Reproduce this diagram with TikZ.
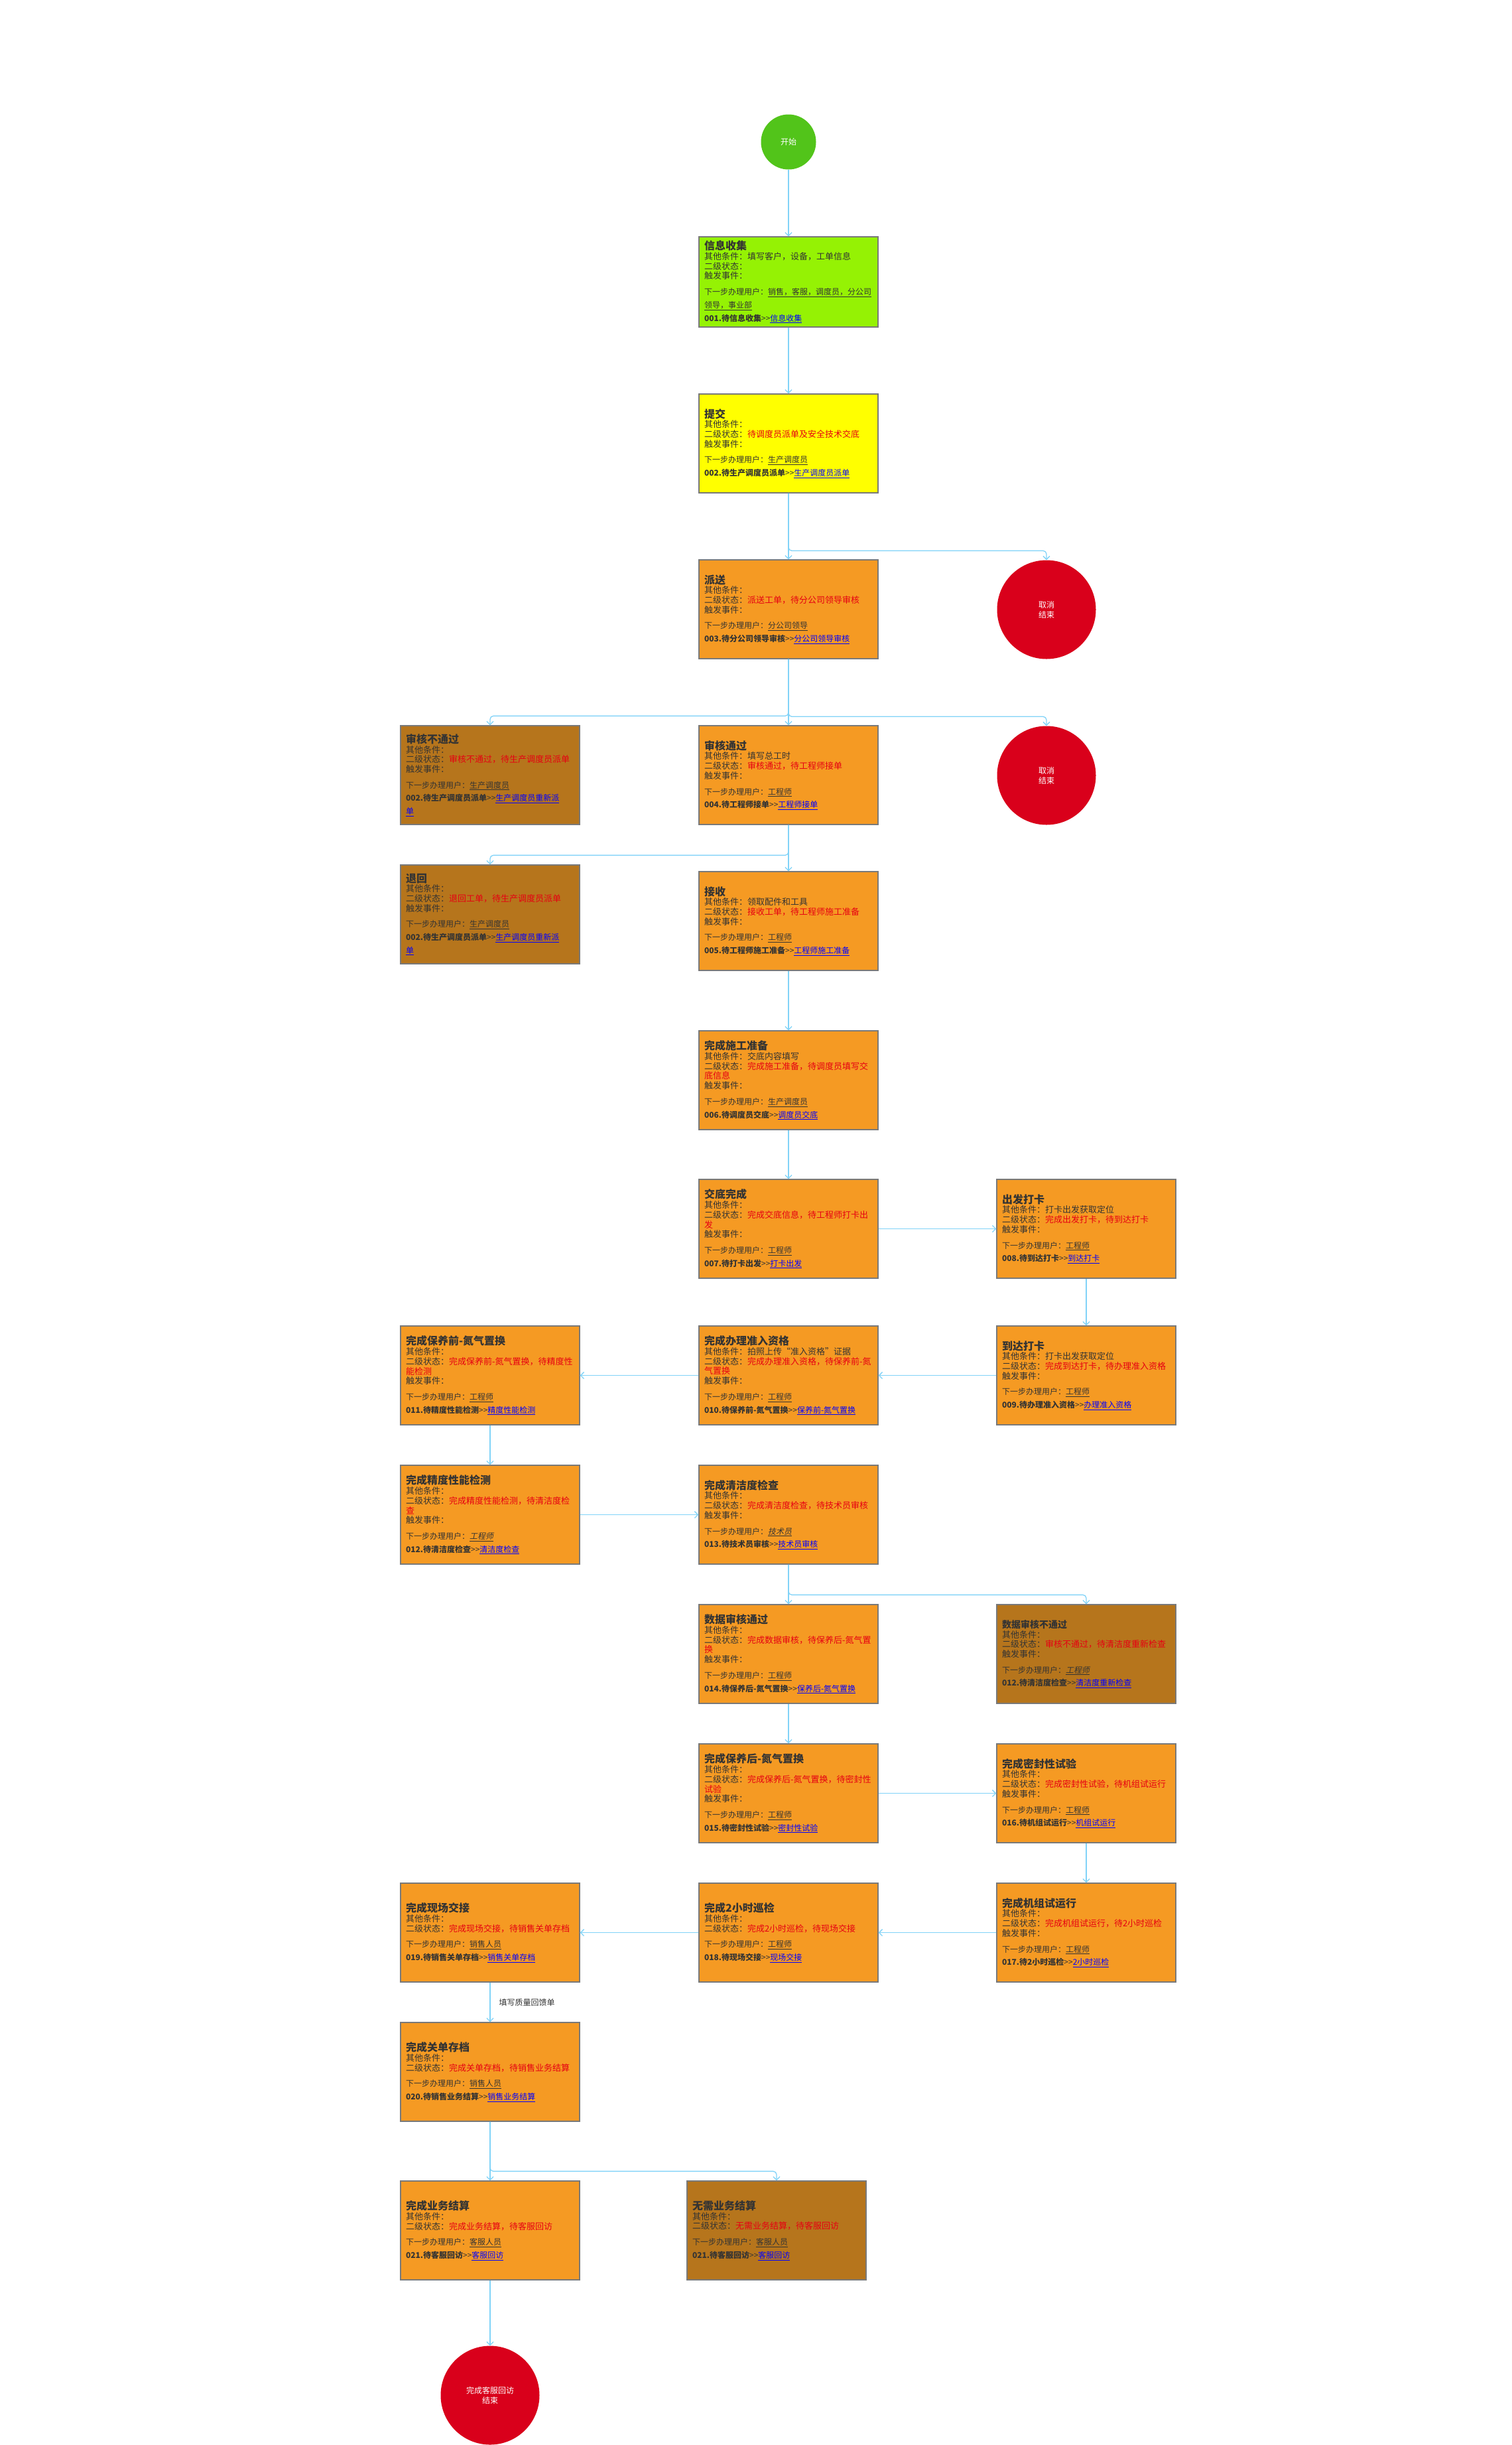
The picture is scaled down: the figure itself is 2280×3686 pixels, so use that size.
\documentclass[tikz,border=0pt]{standalone}
\usepackage{fontspec}
\setmainfont{Noto Sans CJK SC}
\newfontfamily\slantcjk[FakeSlant=0.2]{Noto Sans CJK SC}
\usetikzlibrary{arrows.meta}

\definecolor{startgreen}{RGB}{82,196,26}
\definecolor{limefill}{RGB}{149,242,4}
\definecolor{yellowfill}{RGB}{255,255,0}
\definecolor{orangefill}{RGB}{245,154,35}
\definecolor{brownfill}{RGB}{182,117,28}
\definecolor{endred}{RGB}{217,0,27}
\definecolor{flowblue}{RGB}{129,211,248}
\definecolor{txtdark}{RGB}{51,51,51}
\definecolor{statered}{RGB}{230,0,18}
\definecolor{linkblue}{RGB}{0,0,255}
\definecolor{boxgray}{RGB}{121,121,121}

\newcommand{\boxtitle}[1]{{\fontsize{16}{19}\selectfont\bfseries #1}\\}
\newcommand{\boxtitlesm}[1]{{\fontsize{14}{17}\selectfont\bfseries #1}\\}
\newcommand{\sttxt}[1]{\textcolor{statered}{#1}}
\newcommand{\usertxt}[1]{{\fontsize{12}{14}\selectfont 下一步办理用户：\underline{#1}}}
\newcommand{\usertxti}[1]{{\fontsize{12}{14}\selectfont 下一步办理用户：\underline{\slantcjk #1}}}
\newcommand{\codetxt}[2]{{\fontsize{12}{14}\selectfont\textbf{#1}>{}>\textcolor{linkblue}{\underline{#2}}}}

\begin{document}
\begin{tikzpicture}[x=1pt, y=-1pt,
  card/.style={draw=boxgray, line width=1.3pt, minimum width=270pt, minimum height=149pt,
    text width=254pt, inner xsep=8pt, inner ysep=2pt, align=left, text=txtdark,
    font=\fontsize{13}{14.7}\selectfont},
  ocard/.style={card, fill=orangefill},
  bcard/.style={card, fill=brownfill},
  endpt/.style={circle, fill=endred, text=white, minimum size=149pt, inner sep=0pt,
    align=center, font=\fontsize{12}{15}\selectfont},
  flow/.style={draw=flowblue, line width=1.3pt, rounded corners=5pt,
    -{Straight Barb[length=5pt,width=10pt]}},
  lbl/.style={anchor=west, xshift=12pt, inner sep=1pt, text=txtdark,
    font=\fontsize{12}{14}\selectfont}]

\fill[white] (0,0) rectangle (2280,3686);
\useasboundingbox (0,0) rectangle (2280,3686);

\node[circle, fill=startgreen, text=white, minimum size=83pt, inner sep=0pt,
  font=\fontsize{12}{14}\selectfont] (start) at (1189,214) {开始};

\node[card, fill=limefill, minimum height=136pt] (xinxi) at (1189,425) {\boxtitle{信息收集}
其他条件：填写客户，设备，工单信息\\
二级状态：\\
触发事件：\\[9pt]
\usertxt{销售，客服，调度员，分公司}\\[5pt]
{\fontsize{12}{14}\selectfont\underline{领导，事业部}}\\[5pt]
\codetxt{001.待信息收集}{信息收集}};

\node[card, fill=yellowfill] (tijiao) at (1189,668.5) {\boxtitle{提交}
其他条件：\\
二级状态：\sttxt{待调度员派单及安全技术交底}\\
触发事件：\\[9pt]
\usertxt{生产调度员}\\[5pt]
\codetxt{002.待生产调度员派单}{生产调度员派单}};

\node[ocard] (paisong) at (1189,918.5) {\boxtitle{派送}
其他条件：\\
二级状态：\sttxt{派送工单，待分公司领导审核}\\
触发事件：\\[9pt]
\usertxt{分公司领导}\\[5pt]
\codetxt{003.待分公司领导审核}{分公司领导审核}};

\node[endpt] (cancelA) at (1578,919) {取消\\结束};

\node[bcard] (shenbu) at (739,1168.5) {\boxtitle{审核不通过}
其他条件：\\
二级状态：\sttxt{审核不通过，待生产调度员派单}\\
触发事件：\\[9pt]
\usertxt{生产调度员}\\[5pt]
\codetxt{002.待生产调度员派单}{生产调度员重新派}\\[5pt]
{\fontsize{12}{14}\selectfont\textcolor{linkblue}{\underline{单}}}};

\node[ocard] (shentong) at (1189,1168.5) {\boxtitle{审核通过}
其他条件：填写总工时\\
二级状态：\sttxt{审核通过，待工程师接单}\\
触发事件：\\[9pt]
\usertxt{工程师}\\[5pt]
\codetxt{004.待工程师接单}{工程师接单}};

\node[endpt] (cancelB) at (1578,1169) {取消\\结束};

\node[bcard] (tuihui) at (739,1378.5) {\boxtitle{退回}
其他条件：\\
二级状态：\sttxt{退回工单，待生产调度员派单}\\
触发事件：\\[9pt]
\usertxt{生产调度员}\\[5pt]
\codetxt{002.待生产调度员派单}{生产调度员重新派}\\[5pt]
{\fontsize{12}{14}\selectfont\textcolor{linkblue}{\underline{单}}}};

\node[ocard] (jieshou) at (1189,1388.5) {\boxtitle{接收}
其他条件：领取配件和工具\\
二级状态：\sttxt{接收工单，待工程师施工准备}\\
触发事件：\\[9pt]
\usertxt{工程师}\\[5pt]
\codetxt{005.待工程师施工准备}{工程师施工准备}};

\node[ocard] (shigong) at (1189,1628.5) {\boxtitle{完成施工准备}
其他条件：交底内容填写\\
二级状态：\sttxt{完成施工准备，待调度员填写交}\\
\sttxt{底信息}\\
触发事件：\\[9pt]
\usertxt{生产调度员}\\[5pt]
\codetxt{006.待调度员交底}{调度员交底}};

\node[ocard] (jiaodi) at (1189,1852.5) {\boxtitle{交底完成}
其他条件：\\
二级状态：\sttxt{完成交底信息，待工程师打卡出}\\
\sttxt{发}\\
触发事件：\\[9pt]
\usertxt{工程师}\\[5pt]
\codetxt{007.待打卡出发}{打卡出发}};

\node[ocard] (chufa) at (1638,1852.5) {\boxtitle{出发打卡}
其他条件：打卡出发获取定位\\
二级状态：\sttxt{完成出发打卡，待到达打卡}\\
触发事件：\\[9pt]
\usertxt{工程师}\\[5pt]
\codetxt{008.待到达打卡}{到达打卡}};

\node[ocard] (daoda) at (1638,2073.5) {\boxtitle{到达打卡}
其他条件：打卡出发获取定位\\
二级状态：\sttxt{完成到达打卡，待办理准入资格}\\
触发事件：\\[9pt]
\usertxt{工程师}\\[5pt]
\codetxt{009.待办理准入资格}{办理准入资格}};

\node[ocard] (zhunru) at (1189,2073.5) {\boxtitle{完成办理准入资格}
其他条件：拍照上传“准入资格”证据\\
二级状态：\sttxt{完成办理准入资格，待保养前-氮}\\
\sttxt{气置换}\\
触发事件：\\[9pt]
\usertxt{工程师}\\[5pt]
\codetxt{010.待保养前-氮气置换}{保养前-氮气置换}};

\node[ocard] (byq) at (739,2073.5) {\boxtitle{完成保养前-氮气置换}
其他条件：\\
二级状态：\sttxt{完成保养前-氮气置换，待精度性}\\
\sttxt{能检测}\\
触发事件：\\[9pt]
\usertxt{工程师}\\[5pt]
\codetxt{011.待精度性能检测}{精度性能检测}};

\node[ocard] (jingdu) at (739,2283.5) {\boxtitle{完成精度性能检测}
其他条件：\\
二级状态：\sttxt{完成精度性能检测，待清洁度检}\\
\sttxt{查}\\
触发事件：\\[9pt]
\usertxti{工程师}\\[5pt]
\codetxt{012.待清洁度检查}{清洁度检查}};

\node[ocard] (qingjie) at (1189,2283.5) {\boxtitle{完成清洁度检查}
其他条件：\\
二级状态：\sttxt{完成清洁度检查，待技术员审核}\\
触发事件：\\[9pt]
\usertxti{技术员}\\[5pt]
\codetxt{013.待技术员审核}{技术员审核}};

\node[ocard] (shujutong) at (1189,2493.5) {\boxtitle{数据审核通过}
其他条件：\\
二级状态：\sttxt{完成数据审核，待保养后-氮气置}\\
\sttxt{换}\\
触发事件：\\[9pt]
\usertxt{工程师}\\[5pt]
\codetxt{014.待保养后-氮气置换}{保养后-氮气置换}};

\node[bcard] (shujubu) at (1638,2493.5) {\boxtitlesm{数据审核不通过}
其他条件：\\
二级状态：\sttxt{审核不通过，待清洁度重新检查}\\
触发事件：\\[9pt]
\usertxti{工程师}\\[5pt]
\codetxt{012.待清洁度检查}{清洁度重新检查}};

\node[ocard] (byh) at (1189,2703.5) {\boxtitle{完成保养后-氮气置换}
其他条件：\\
二级状态：\sttxt{完成保养后-氮气置换，待密封性}\\
\sttxt{试验}\\
触发事件：\\[9pt]
\usertxt{工程师}\\[5pt]
\codetxt{015.待密封性试验}{密封性试验}};

\node[ocard] (mifeng) at (1638,2703.5) {\boxtitle{完成密封性试验}
其他条件：\\
二级状态：\sttxt{完成密封性试验，待机组试运行}\\
触发事件：\\[9pt]
\usertxt{工程师}\\[5pt]
\codetxt{016.待机组试运行}{机组试运行}};

\node[ocard] (jizu) at (1638,2913.5) {\boxtitle{完成机组试运行}
其他条件：\\
二级状态：\sttxt{完成机组试运行，待2小时巡检}\\
触发事件：\\[9pt]
\usertxt{工程师}\\[5pt]
\codetxt{017.待2小时巡检}{2小时巡检}};

\node[ocard] (xunjian) at (1189,2913.5) {\boxtitle{完成2小时巡检}
其他条件：\\
二级状态：\sttxt{完成2小时巡检，待现场交接}\\[9pt]
\usertxt{工程师}\\[5pt]
\codetxt{018.待现场交接}{现场交接}};

\node[ocard] (jiaojie) at (739,2913.5) {\boxtitle{完成现场交接}
其他条件：\\
二级状态：\sttxt{完成现场交接，待销售关单存档}\\[9pt]
\usertxt{销售人员}\\[5pt]
\codetxt{019.待销售关单存档}{销售关单存档}};

\node[ocard] (guandan) at (739,3123.5) {\boxtitle{完成关单存档}
其他条件：\\
二级状态：\sttxt{完成关单存档，待销售业务结算}\\[9pt]
\usertxt{销售人员}\\[5pt]
\codetxt{020.待销售业务结算}{销售业务结算}};

\node[ocard] (jiesuan) at (739,3362.5) {\boxtitle{完成业务结算}
其他条件：\\
二级状态：\sttxt{完成业务结算，待客服回访}\\[9pt]
\usertxt{客服人员}\\[5pt]
\codetxt{021.待客服回访}{客服回访}};

\node[bcard] (wuxu) at (1171,3362.5) {\boxtitle{无需业务结算}
其他条件：\\
二级状态：\sttxt{无需业务结算，待客服回访}\\[9pt]
\usertxt{客服人员}\\[5pt]
\codetxt{021.待客服回访}{客服回访}};

\node[endpt] (finish) at (739,3611) {完成客服回访\\结束};

\foreach \a/\b in {start/xinxi, xinxi/tijiao, tijiao/paisong, paisong/shentong,
  shentong/jieshou, jieshou/shigong, shigong/jiaodi, jiaodi/chufa, chufa/daoda,
  daoda/zhunru, zhunru/byq, byq/jingdu, jingdu/qingjie, qingjie/shujutong,
  shujutong/byh, byh/mifeng, mifeng/jizu, jizu/xunjian, xunjian/jiaojie,
  guandan/jiesuan, jiesuan/finish}
  \draw[flow] (\a) -- (\b);

\foreach \a/\b in {tijiao/cancelA, paisong/shenbu, paisong/cancelB, shentong/tuihui,
  qingjie/shujubu, guandan/wuxu}
  \draw[flow] (\a.south) |- ([yshift=14pt]\b.north) -- (\b.north);

\draw[flow] (jiaojie) -- node[lbl] {填写质量回馈单} (guandan);
\end{tikzpicture}
\end{document}
